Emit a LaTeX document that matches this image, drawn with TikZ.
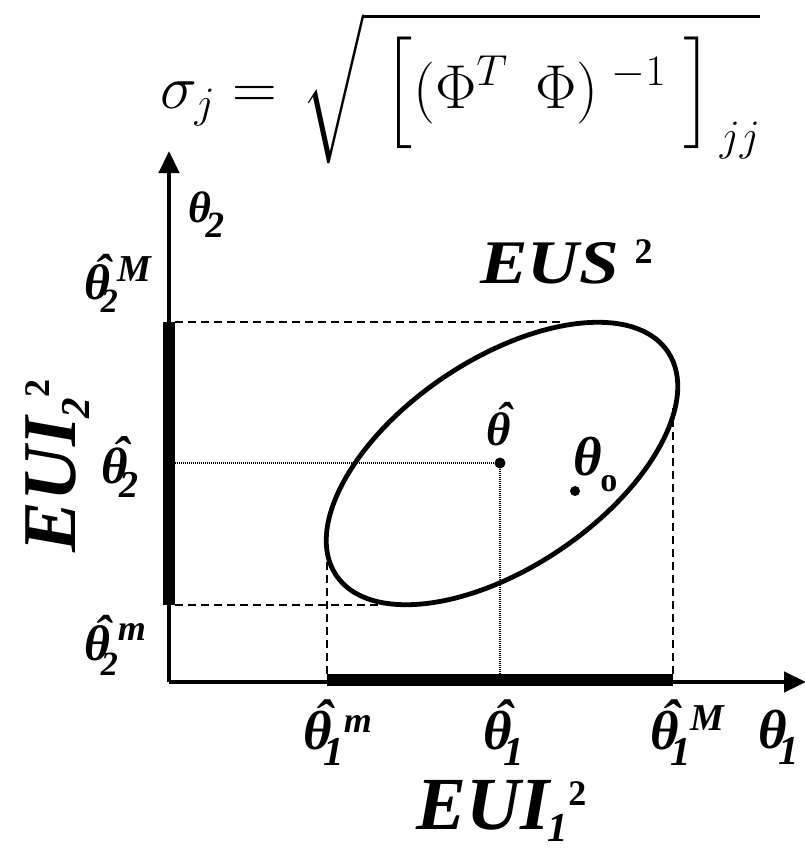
\RequirePackage{fix-cm}
\documentclass[tikz,border=0pt]{standalone}
\usepackage{amsmath}
\usepackage[no-math]{fontspec}
\setmainfont{Liberation Serif}
\DeclareFontFamily{OMX}{cmex}{}
\DeclareFontShape{OMX}{cmex}{m}{n}{<->cmex10}{}
\usetikzlibrary{arrows.meta}
\newcommand\fs[1]{\fontsize{#1}{#1}\selectfont}
\newcommand\hth{\leavevmode\setbox0\hbox{θ}\rlap{\hbox to \wd0{\hss\kern0.25em\raisebox{0.2em}{ˆ}\hss}}\box0}
\newcommand\lo[3]{\raisebox{-#1pt}{\fs{#2}#3}}
\newcommand\hi[3]{\raisebox{#1pt}{\fs{#2}#3}}
\newcommand\strutx[2]{\vrule height #1 depth #2 width 0pt}
\begin{document}
\begin{tikzpicture}[x=1pt,y=-1pt,line join=round,
  axis/.style={line width=4.5pt,-{Triangle[length=22pt,width=20pt]}},
  bar/.style={line width=12.5pt},
  guide/.style={line width=2.5pt,dash pattern=on 8pt off 5pt},
  fine/.style={line width=2pt,dash pattern=on 1.2pt off 0.8pt},
  lbl/.style={anchor=base west,inner sep=0pt,outer sep=0pt,font=\bfseries\itshape},
  dot/.style={circle,fill=black,inner sep=0pt,minimum size=11pt}]
\useasboundingbox (0,0) rectangle (804,849);
% formula
\node[anchor=base west,inner sep=0pt] (formula) at (160,108)
  {\fs{62}$\sigma_j=\mkern2mu\sqrt{\smash{\mkern6mu\left[\strutx{1em}{0.5em}(\Phi^{T}\mkern8mu\Phi)^{\mkern5.5mu-1}\mkern5mu\right]_{\mkern3mu jj}}\strutx{1.3em}{0.8em}}$};
% axes
\coordinate (O) at (169,682);
\coordinate (Ytip) at (169,151);
\coordinate (Xtip) at (806,682);
\draw[axis] (O) -- (Ytip);
\draw[axis] (O) -- (Xtip);
% thick intervals
\coordinate (y2m) at (169,605);
\coordinate (y2M) at (169,322);
\coordinate (x1m) at (327,680);
\coordinate (x1M) at (673,680);
\draw[bar] (y2m) -- (y2M);
\draw[bar] (x1m) -- (x1M);
% ellipse
\coordinate (C) at (502,463.5);
\draw[line width=4.8pt,rotate around={34:(C)}] (C) ellipse [x radius=200pt,y radius=104pt];
% guide lines
\coordinate (gTop) at (562,322);
\coordinate (gBot) at (380,605);
\coordinate (gLeft) at (327,558);
\coordinate (gRight) at (673,408);
\coordinate (gTopS) at (175,322);
\coordinate (gBotS) at (175,605);
\coordinate (gLeftS) at (327,674);
\coordinate (gRightS) at (673,674);
\draw[guide] (gTopS) -- (gTop);
\draw[guide] (gBotS) -- (gBot);
\draw[guide] (gLeftS) -- (gLeft);
\draw[guide] (gRightS) -- (gRight);
% centre and true point
\node[dot] (that) at (500,463) {};
\node[dot,minimum size=10pt] (to) at (575,491) {};
\coordinate (hL) at (175,463);
\coordinate (hB) at (500,675);
\draw[fine] (hL) -- (that);
\draw[fine] (that) -- (hB);
% labels
\node[lbl] (formulaT2) at (188,222) {\fs{44}θ\kern-0.12em\lo{15}{37}{2}};
\node[lbl] (eus) at (480,283) {\scalebox{1.15}[1]{\fs{62}EUS}\kern16pt\hi{20}{36}{\upshape 2}};
\node[lbl] (lt2M) at (84,299) {\fs{50}\hth\kern-0.18em\lo{13}{34}{2}\hi{18}{38}{M}};
\node[lbl] (lt2) at (101,483) {\fs{51}\hth\kern-0.15em\lo{14}{38}{2}};
\node[lbl] (lt2m) at (84,660) {\fs{50}\hth\kern-0.18em\lo{15}{34}{2}\hi{20}{36}{m}};
\node[lbl] (lth) at (486,445) {\fs{47}\hth};
\node[lbl] (lto) at (573,475) {\fs{55}θ\kern-0.02em\lo{16}{34}{\upshape o}};
\node[lbl] (lt1m) at (303,749) {\fs{55}\hth\kern-0.15em\lo{16}{41}{1}\hi{17}{36}{m}};
\node[lbl] (lt1) at (483,749) {\fs{55}\hth\kern-0.15em\lo{16}{41}{1}};
\node[lbl] (lt1M) at (650,749) {\fs{55}\hth\kern-0.15em\lo{16}{41}{1}\hi{19}{38}{M}};
\node[lbl] (lth1) at (758,748) {\fs{55}θ\kern-0.15em\lo{16}{41}{1}};
\node[lbl] (eui1) at (416,829) {\fs{75}EUI\kern-0.02em\lo{12}{41}{1}\hi{24}{36}{\upshape 2}};
\node[lbl,rotate=90] (eui2) at (75,552) {\fs{76}EUI\kern-0.02em\lo{14}{41}{2}\hi{26}{36}{\upshape 2}};
\end{tikzpicture}
\end{document}
